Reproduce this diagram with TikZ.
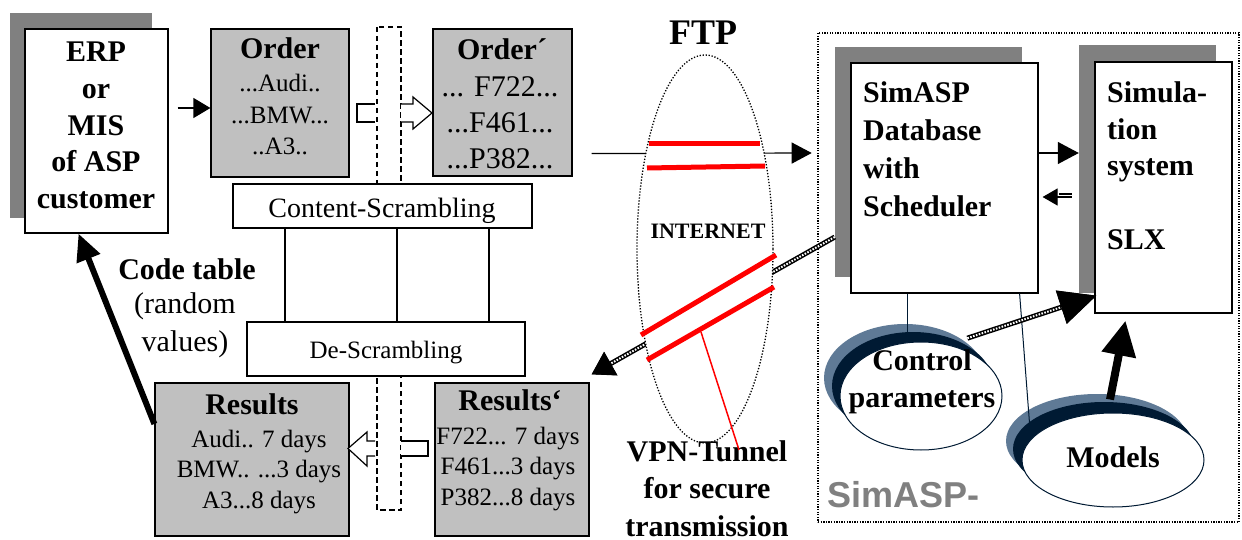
\documentclass[tikz,border=0pt]{standalone}
\usepackage{fontspec}
\setmainfont{Liberation Serif}
\newfontfamily\framefont{Liberation Sans}
\usepackage{xcolor}
\usetikzlibrary{arrows.meta,shapes.geometric}

\definecolor{boxgray}{HTML}{C0C0C0}
\definecolor{shadowgray}{HTML}{808080}
\definecolor{ovalnavy}{HTML}{001A33}
\definecolor{ovalslate}{HTML}{5F7A96}

\begin{document}
\begin{tikzpicture}[x=1pt, y=-1pt,
        box/.style={draw, line width=1.2pt, fill=white, inner sep=0pt},
        graybox/.style={box, fill=boxgray},
        shadowbox/.style={fill=shadowgray, inner sep=0pt},
        oval/.style={ellipse, draw=ovalnavy, line width=1pt, fill=white, inner sep=0pt},
        ovalback/.style={ellipse, fill=ovalslate, inner sep=0pt},
        ovalmid/.style={ellipse, fill=ovalnavy, inner sep=0pt},
        bigtxt/.style={font=\fontsize{30}{37}\selectfont\bfseries, inner sep=0pt},
        bodytxt/.style={font=\fontsize{25}{30.5}\selectfont, inner sep=0pt},
        striprect/.style={line width=2.5pt, dash pattern=on 5.5pt off 3.5pt},
        hollow/.style={draw, line width=1.2pt, fill=white},
        rope/.style={line width=2pt, white, dash pattern=on 1.6pt off 1.4pt,
            preaction={draw, black, solid, line width=5pt}},
        tunnel/.style={red, line width=5pt}]
        \useasboundingbox (0,0) rectangle (1242,540);

        % Customer side
        \node[shadowbox, minimum width=142pt, minimum height=205pt] (erpshadow) at (81,115.5) {};
        \node[box, minimum width=143pt, minimum height=204pt] (erp) at (96.5,131) {};
        \node[bigtxt, align=center, anchor=base, font=\fontsize{30}{36.5}\selectfont\bfseries] (erptext) at (96,208) {ERP\\or\\MIS\\of ASP\\customer};

        % Orders
        \node[graybox, minimum width=138pt, minimum height=148pt] (order) at (280,103) {};
        \node[bigtxt, anchor=base] (ordertitle) at (280,59) {Order};
        \node[bodytxt, align=center, anchor=base, font=\fontsize{25}{31.5}\selectfont] (orderbody) at (280,155) {...Audi..\\...BMW...\\..A3..};

        \node[graybox, minimum width=139pt, minimum height=147pt] (orderp) at (502.5,102.5) {};
        \node[bigtxt, anchor=base] (orderptitle) at (502,60) {Order´};
        \node[bodytxt, align=center, anchor=base, font=\fontsize{30}{36}\selectfont] (orderpbody) at (500,169) {... F722...\\...F461...\\...P382...};

        % Dashed strips
        \draw[striprect] (377,27) rectangle (401,200);
        \draw[striprect] (377,360) rectangle (401,510);

        % Scrambling boxes
        \node[box, minimum width=299pt, minimum height=44pt] (content) at (382.5,206) {};
        \node[anchor=base, inner sep=0pt, font=\fontsize{28}{32}\selectfont] (contenttext) at (382,218) {Content-Scrambling};
        \node[box, minimum width=278pt, minimum height=54pt] (descr) at (386,349) {};
        \node[bodytxt, anchor=base] (descrtext) at (386,358) {De-Scrambling};
        \foreach \x in {285,397,489}
            \draw[line width=1.2pt] (content.south -| \x,0) -- (descr.north -| \x,0);

        % Results
        \node[graybox, minimum width=194pt, minimum height=153pt] (results) at (252,459.5) {};
        \node[bigtxt, anchor=base] (resultstitle) at (252,414) {Results};
        \node[bodytxt, align=center, anchor=base] (resultsbody) at (259,508) {Audi.. 7 days\\BMW.. ...3 days\\A3...8 days};

        \node[graybox, minimum width=154pt, minimum height=153pt] (resultsp) at (512,459.5) {};
        \node[bigtxt, anchor=base] (resultsptitle) at (510,410) {Results‘};
        \node[bodytxt, align=center, anchor=base] (resultspbody) at (508,505) {F722... 7 days\\F461...3 days\\P382...8 days};

        % Hollow arrows through the strips
        \draw[hollow] (375,104) -- (357,104) -- (357,122) -- (375,122);
        \draw[hollow] (401,104) -- (413,104) -- (413,97) -- (432,113) -- (413,129) -- (413,122) -- (401,122);
        \draw[hollow] (375,441) -- (367,441) -- (367,432) -- (348,448.5) -- (367,466) -- (367,456) -- (375,456);
        \draw[hollow] (401,441) -- (428,441) -- (428,456) -- (401,456);

        % Code table
        \node[bigtxt, anchor=base] (codetitle) at (187,279) {Code table};
        \node[align=center, anchor=base, inner sep=0pt, font=\fontsize{30}{38}\selectfont] (codebody) at (185,351) {(random\\values)};
        \draw[line width=6pt, -{Triangle[length=27pt, width=24pt]}] (results.160) -- ([xshift=-18pt]erp.south);
        \draw[line width=1.2pt, -{Triangle[length=17pt, width=20pt]}] ([shift={(9pt,23pt)}]erp.east) -- ([yshift=-5pt]order.west);

        % SimASP frame
        \node[shadowbox, minimum width=187pt, minimum height=230pt] (dbshadow) at (928.5,162) {};
        \node[box, minimum width=187pt, minimum height=230pt] (db) at (944.5,178) {};
        \node[bigtxt, align=left, anchor=base west, font=\fontsize{30}{38}\selectfont\bfseries] (dbtext) at (863,217) {SimASP\\Database\\with\\Scheduler};
        \node[shadowbox, minimum width=137pt, minimum height=248pt] (simshadow) at (1147.5,169) {};
        \node[box, minimum width=137pt, minimum height=251pt] (sim) at (1163.5,187.5) {};
        \node[bigtxt, align=left, anchor=base west] (simtext) at (1107,250) {Simula-\\tion\\system\\\mbox{}\\SLX};
        \node[draw, line width=2.6pt, dash pattern=on 1.3pt off 1.3pt, minimum width=421pt, minimum height=489pt, inner sep=0pt] (simasp) at (1028.5,277.5) {};
        \node[anchor=base west, inner sep=0pt, text=shadowgray, font=\fontsize{36}{40}\selectfont\framefont\bfseries] (simasplabel) at (827,507) {SimASP-};

        % Internet tunnel
        \draw[line width=1.2pt, -{Triangle[length=20pt, width=21pt]}] ([shift={(19pt,23pt)}]orderp.south east) -- ([shift={(-5pt,124.5pt)}]simasp.west);
        \draw[rope, -{Triangle[length=22pt, width=26pt, color=black]}] ([yshift=-75pt]dbshadow.west) -- ([shift={(2pt,8pt)}]resultsp.north east);
        \node[ellipse, draw, line width=1.3pt, dash pattern=on 1.3pt off 1.7pt, fill=white, minimum width=136pt, minimum height=388pt, inner sep=0pt] (internet) at (705,249) {};
        \draw[tunnel] (649,144) -- (760,144);
        \draw[tunnel] (647,168) -- (765,166);
        \draw[tunnel] (641,335) -- (776,255);
        \draw[tunnel] (647,360) -- (774,287);
        \node[anchor=base, inner sep=0pt, font=\fontsize{22}{26}\selectfont\bfseries] (internettext) at (708,238) {INTERNET};
        \node[anchor=base, inner sep=0pt, font=\fontsize{36}{40}\selectfont\bfseries] (ftp) at (703,45) {FTP};
        \node[bigtxt, align=center, anchor=base, font=\fontsize{30}{37.5}\selectfont\bfseries] (vpn) at (707,536) {VPN-Tunnel\\for secure\\transmission};
        \coordinate (tunnelmid) at (701,332);
        \draw[red, line width=1.5pt] (tunnelmid) -- ([shift={(32pt,-10pt)}]vpn.north);

        % Database and simulation
        \draw[line width=1.2pt, -{Triangle[length=21pt, width=22pt]}] ([yshift=25pt]db.east) -- ([yshift=16pt]simshadow.west);
        \draw[line width=1.2pt, -{Triangle[length=15pt, width=17pt]}] ([shift={(-7pt,-28pt)}]simshadow.west) -- ([shift={(4pt,-19pt)}]db.east);
        \draw[line width=1.2pt] ([shift={(-7pt,-25pt)}]simshadow.west) -- ([shift={(-20pt,-25pt)}]simshadow.west);

        % Control parameters and models
        \node[ovalback, minimum width=162pt, minimum height=108pt] (controlback) at (905,378) {};
        \node[ovalmid, minimum width=162pt, minimum height=108pt] (controlmid) at (913,386) {};
        \node[oval, minimum width=162pt, minimum height=108pt] (control) at (921,396) {};
        \node[bigtxt, align=center, anchor=base] (controltext) at (922,407) {Control\\parameters};
        \node[ovalback, minimum width=182pt, minimum height=94pt] (modelsback) at (1097,441) {};
        \node[ovalmid, minimum width=182pt, minimum height=94pt] (modelsmid) at (1104,449) {};
        \node[oval, minimum width=182pt, minimum height=94pt] (models) at (1113,460) {};
        \node[bigtxt, anchor=base] (modelstext) at (1113,467) {Models};
        \draw[ovalnavy, line width=1pt] ([xshift=-6pt]controlmid.north |- db.south) -- ([xshift=-6pt]controlmid.north);
        \draw[ovalnavy, line width=1pt] ([xshift=-19pt]db.south east) -- (modelsmid.160);
        \draw[rope, -{Triangle[length=37pt, width=34pt, color=black]}] ([shift={(17pt,7pt)}]control.60) -- ([shift={(2pt,18pt)}]sim.south west);
        \draw[line width=8pt, -{Triangle[length=35pt, width=33pt]}] ([shift={(-3pt,13pt)}]models.north) -- ([shift={(-38pt,-7pt)}]sim.south);
    \end{tikzpicture}
\end{document}
